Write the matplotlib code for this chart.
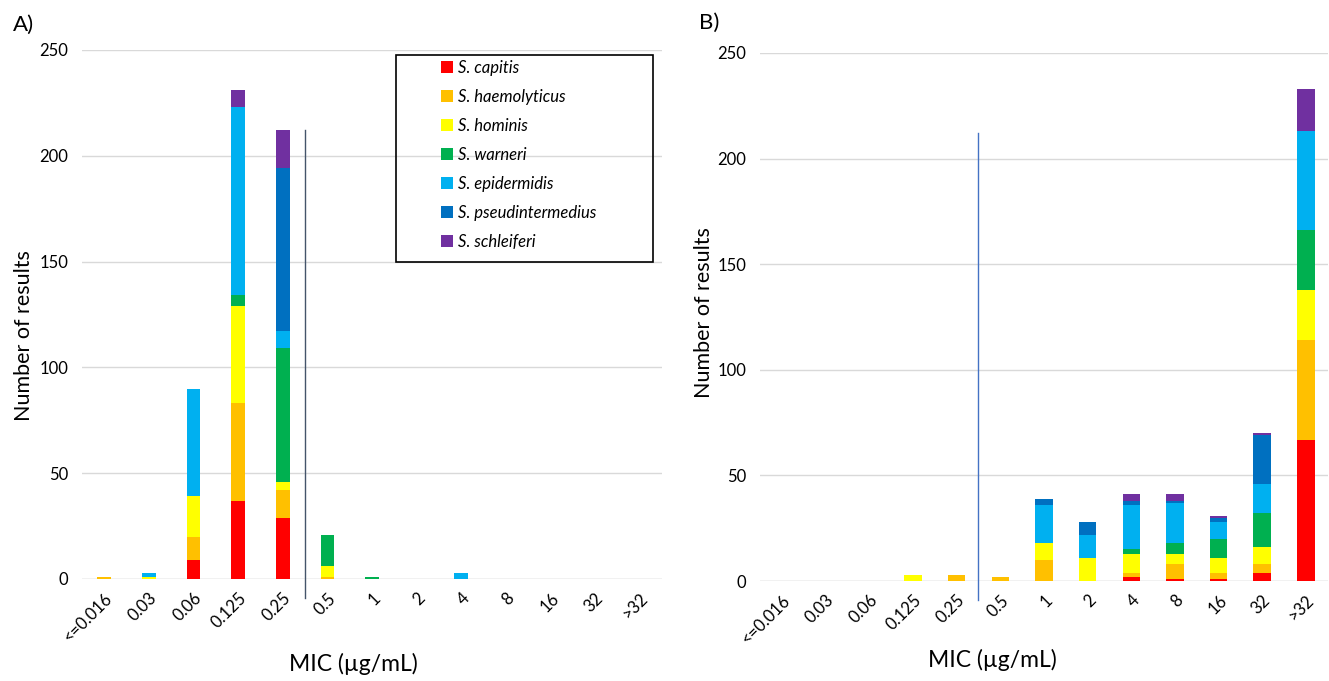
import matplotlib.pyplot as plt
from matplotlib.patches import Rectangle
import numpy as np

plt.rcParams['font.family'] = ['Lato', 'DejaVu Sans']

categories = ['<=0.016', '0.03', '0.06', '0.125', '0.25', '0.5', '1', '2', '4', '8', '16', '32', '>32']
species = ['S. capitis', 'S. haemolyticus', 'S. hominis', 'S. warneri',
           'S. epidermidis', 'S. pseudintermedius', 'S. schleiferi']
colors = ['#FF0000', '#FFC000', '#FFFF00', '#00B050', '#00B0F0', '#0070C0', '#7030A0']

# Panel A counts per species per MIC category
a_capitis = [0, 0, 9, 37, 29, 0, 0, 0, 0, 0, 0, 0, 0]
a_haemolyticus = [1, 0, 11, 46, 13, 1, 0, 0, 0, 0, 0, 0, 0]
a_hominis = [0, 1, 19, 46, 4, 5, 0, 0, 0, 0, 0, 0, 0]
a_warneri = [0, 0, 0, 5, 63, 15, 1, 0, 0, 0, 0, 0, 0]
a_epidermidis = [0, 2, 51, 89, 8, 0, 0, 0, 3, 0, 0, 0, 0]
a_pseudintermedius = [0, 0, 0, 0, 77, 0, 0, 0, 0, 0, 0, 0, 0]
a_schleiferi = [0, 0, 0, 8, 18, 0, 0, 0, 0, 0, 0, 0, 0]

# Panel B
b_capitis = [0, 0, 0, 0, 0, 0, 0, 0, 2, 1, 1, 4, 67]
b_haemolyticus = [0, 0, 0, 0, 3, 2, 10, 0, 2, 7, 3, 4, 47]
b_hominis = [0, 0, 0, 3, 0, 0, 8, 11, 9, 5, 7, 8, 24]
b_warneri = [0, 0, 0, 0, 0, 0, 0, 0, 2, 5, 9, 16, 28]
b_epidermidis = [0, 0, 0, 0, 0, 0, 18, 11, 21, 19, 8, 14, 47]
b_pseudintermedius = [0, 0, 0, 0, 0, 0, 3, 6, 2, 1, 2, 23, 0]
b_schleiferi = [0, 0, 0, 0, 0, 0, 0, 0, 3, 3, 1, 1, 20]

data_a = [a_capitis, a_haemolyticus, a_hominis, a_warneri, a_epidermidis, a_pseudintermedius, a_schleiferi]
data_b = [b_capitis, b_haemolyticus, b_hominis, b_warneri, b_epidermidis, b_pseudintermedius, b_schleiferi]


def draw_panel(ax, data, width, line_color):
    x = np.arange(len(categories))
    bottom = np.zeros(len(categories))
    for vals, col, name in zip(data, colors, species):
        vals = np.array(vals)
        ax.bar(x, vals, width, bottom=bottom, color=col, label=name, zorder=3)
        bottom += vals
    ax.set_xlim(-0.5, len(categories) - 0.5)
    ax.set_ylim(0, 250)
    ax.set_yticks(np.arange(0, 251, 50))
    ax.set_xticks(x)
    ax.set_xticklabels(categories, rotation=45, ha='right', rotation_mode='anchor', fontsize=12)
    ax.tick_params(axis='both', length=0, labelsize=12, colors='#000000')
    ax.tick_params(axis='x', pad=8)
    ax.tick_params(axis='y', pad=10)
    ax.grid(axis='y', color='#D9D9D9', linewidth=1, zorder=0)
    for s in ax.spines.values():
        s.set_visible(False)
    ax.axhline(0, color='#D9D9D9', linewidth=1, zorder=2)
    ax.plot([4.5, 4.5], [-9, 212], color=line_color, linewidth=1, clip_on=False, zorder=4)
    ax.set_xlabel('MIC (\u00b5g/mL)', fontsize=16.5)
    ax.set_ylabel('Number of results', fontsize=15.5)


fig = plt.figure(figsize=(13.29, 6.81), dpi=100)
ax1 = fig.add_axes([0.0617, 0.1498, 0.4365, 0.7768])
ax2 = fig.add_axes([0.572, 0.1468, 0.427, 0.7754])

draw_panel(ax1, data_a, 0.31, '#44546A')
draw_panel(ax2, data_b, 0.40, '#4472C4')

ax1.xaxis.set_label_coords(0.467, -0.14)
ax1.yaxis.set_label_coords(-0.082, 0.46)
ax2.xaxis.set_label_coords(0.409, -0.128)
ax2.yaxis.set_label_coords(-0.081, 0.508)

# legend box drawn separately so it can have the wide left margin
fig.patches.append(Rectangle((0.298, 0.615), 0.1934, 0.304, transform=fig.transFigure,
                             fill=False, edgecolor='black', linewidth=1.2, zorder=5))
fig.legend(*ax1.get_legend_handles_labels(), loc='upper left', bbox_to_anchor=(0.332, 0.912),
           frameon=False, handlelength=0.7, handleheight=0.7, handletextpad=0.3,
           labelspacing=0.78, borderpad=0, borderaxespad=0,
           prop={'style': 'italic', 'size': 12})

fig.text(0.01, 0.963, 'A)', fontsize=16, va='center')
fig.text(0.526, 0.966, 'B)', fontsize=16, va='center')

fig.savefig('out.png', dpi=100)
